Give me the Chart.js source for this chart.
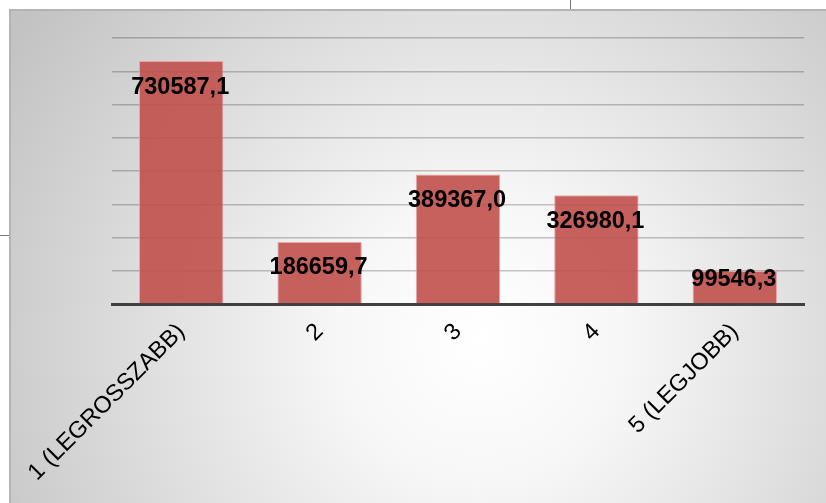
<!DOCTYPE html>
<html>
<head>
<meta charset="utf-8">
<script src="https://cdn.jsdelivr.net/npm/chart.js@4/dist/chart.umd.min.js"></script>
<style>
  html, body { margin: 0; padding: 0; background: #fff; }
  #wrap { width: 826px; height: 503px; }
</style>
</head>
<body>
<div id="wrap"><canvas id="chart" width="826" height="503"></canvas></div>
<script>
const categories = ['1 (LEGROSSZABB)', '2', '3', '4', '5 (LEGJOBB)']
const values = [730587.1, 186659.7, 389367.0, 326980.1, 99546.3]
const yMax = 800000
const yStep = 100000

const fontFamily = '"Liberation Sans", Arial, sans-serif'

// gray sheet background with radial shine + stray cell lines
const backdrop = {
  id: 'backdrop',
  beforeDraw(chart) {
    const ctx = chart.ctx
    const w = chart.width, h = chart.height
    ctx.save()
    ctx.fillStyle = '#fff'
    ctx.fillRect(0, 0, w, h)
    const g = ctx.createRadialGradient(480, 340, 0, 480, 340, 560)
    g.addColorStop(0, '#ffffff')
    g.addColorStop(0.25, '#f7f7f7')
    g.addColorStop(1, '#c2c2c2')
    ctx.fillStyle = g
    ctx.fillRect(10, 9, w - 10, h - 9)
    ctx.strokeStyle = '#b4b4b4'
    ctx.lineWidth = 2
    ctx.beginPath()
    ctx.moveTo(10, h)
    ctx.lineTo(10, 10)
    ctx.lineTo(w, 10)
    ctx.stroke()
    ctx.strokeStyle = '#777'
    ctx.lineWidth = 1
    ctx.beginPath()
    ctx.moveTo(570.5, 0)
    ctx.lineTo(570.5, 9)
    ctx.moveTo(0, 235.5)
    ctx.lineTo(9, 235.5)
    ctx.stroke()
    ctx.restore()
  }
}

// value labels inside the bar tops
const valueLabels = {
  id: 'valueLabels',
  afterDatasetsDraw(chart) {
    const ctx = chart.ctx
    const meta = chart.getDatasetMeta(0)
    const base = chart.scales.y.getPixelForValue(0)
    ctx.save()
    ctx.font = 'bold 23.5px ' + fontFamily
    ctx.fillStyle = '#000'
    ctx.textAlign = 'center'
    ctx.textBaseline = 'middle'
    meta.data.forEach((bar, i) => {
      const txt = values[i].toFixed(1).replace('.', ',')
      const y = Math.min(bar.y + 26, base - 24)
      ctx.fillText(txt, bar.x - 1, y)
    })
    ctx.restore()
  }
}

new Chart(document.getElementById('chart'), {
  type: 'bar',
  data: {
    labels: categories,
    datasets: [{
      data: values,
      backgroundColor: 'rgba(192,80,77,0.9)',
      borderColor: 'rgba(235,160,160,0.9)',
      borderWidth: 1,
      categoryPercentage: 1,
      barPercentage: 0.61
    }]
  },
  options: {
    responsive: false,
    animation: false,
    layout: { padding: { left: 112, right: 22, top: 38, bottom: 0 } },
    plugins: {
      legend: { display: false },
      tooltip: { enabled: false }
    },
    scales: {
      x: {
        grid: { display: false, drawTicks: false },
        border: { display: true, color: '#404040', width: 3 },
        ticks: {
          autoSkip: false,
          maxRotation: 45,
          minRotation: 45,
          padding: 14,
          color: '#000',
          font: { family: fontFamily, size: 23.5 }
        },
        afterFit(scale) { scale.height = 199 }
      },
      y: {
        min: 0,
        max: yMax,
        ticks: { display: false, stepSize: yStep },
        grid: { color: 'rgba(0,0,0,0.22)', lineWidth: 1.5, drawTicks: false },
        border: { display: false },
        afterFit(scale) { scale.width = 0 }
      }
    }
  },
  plugins: [backdrop, valueLabels]
})
</script>
</body>
</html>
